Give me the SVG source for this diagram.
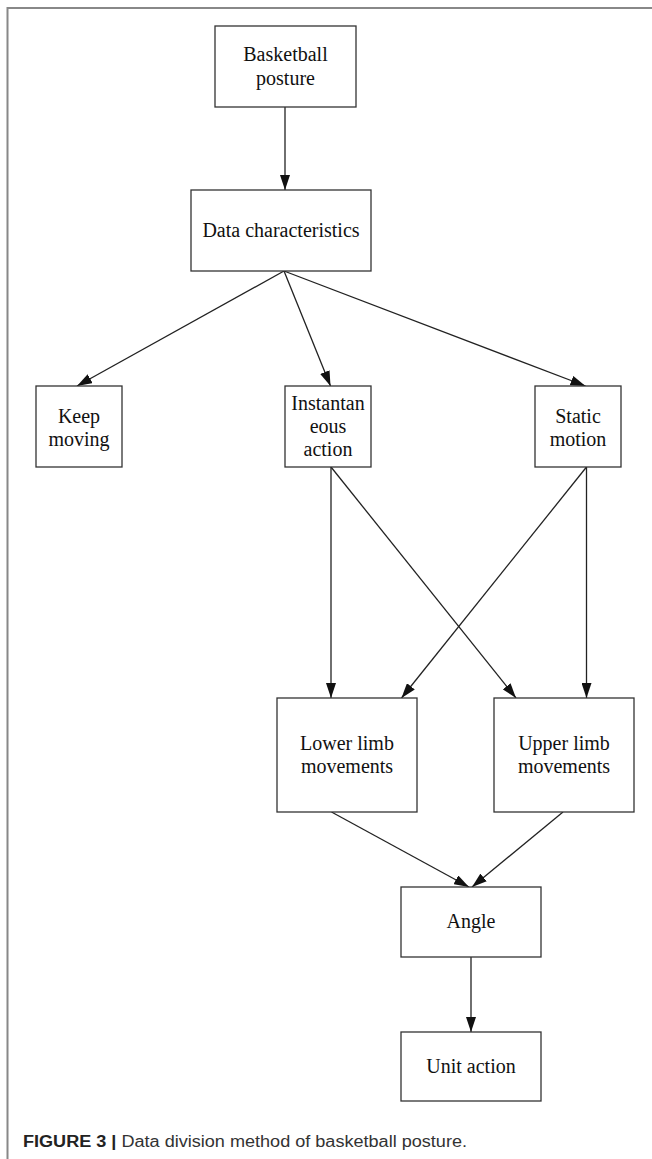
<svg xmlns="http://www.w3.org/2000/svg" width="652" height="1159" viewBox="0 0 652 1159">
<style>
.box{fill:#fff;stroke:#333;stroke-width:1.3}
.lbl{font-family:"Liberation Serif","Times New Roman",serif;font-size:20px;fill:#111;text-anchor:middle}
.edge{stroke:#222;stroke-width:1.3;fill:none;marker-end:url(#ah)}
.frame{stroke:#888;stroke-width:2;fill:none}
.cap{font-family:"Liberation Sans",Arial,sans-serif;font-size:16px;fill:#333}
</style>
<defs>
<marker id="ah" markerUnits="userSpaceOnUse" markerWidth="15" markerHeight="10" refX="15" refY="5" orient="auto">
<path d="M0,0 L15,5 L0,10 z" fill="#111"/>
</marker>
</defs>
<rect width="652" height="1159" fill="#fff"/>
<path class="frame" d="M7.5,1159 V8 H652"/>
<g id="connectors">
<line class="edge" x1="285" y1="107" x2="285" y2="190"/>
<line class="edge" x1="284" y1="271" x2="77" y2="386"/>
<line class="edge" x1="284" y1="271" x2="330.5" y2="386"/>
<line class="edge" x1="284" y1="271" x2="585.5" y2="386"/>
<line class="edge" x1="331" y1="467" x2="331" y2="698"/>
<line class="edge" x1="331" y1="467" x2="516" y2="698"/>
<line class="edge" x1="586.5" y1="467" x2="586.5" y2="698"/>
<line class="edge" x1="586.5" y1="467" x2="401.5" y2="698"/>
<line class="edge" x1="331.5" y1="812" x2="469" y2="887"/>
<line class="edge" x1="563" y1="812" x2="472" y2="887"/>
<line class="edge" x1="471" y1="957" x2="471" y2="1032"/>
</g>
<g id="n-basketball">
<rect class="box" x="215" y="26" width="141" height="81"/>
<text class="lbl" x="285.5" y="61">Basketball</text>
<text class="lbl" x="285.5" y="85">posture</text>
</g>
<g id="n-data">
<rect class="box" x="191" y="190" width="180" height="81"/>
<text class="lbl" x="281" y="237">Data characteristics</text>
</g>
<g id="n-keep">
<rect class="box" x="36" y="386" width="86" height="81"/>
<text class="lbl" x="79" y="423">Keep</text>
<text class="lbl" x="79" y="446">moving</text>
</g>
<g id="n-inst">
<rect class="box" x="285" y="386" width="86" height="81"/>
<text class="lbl" x="328" y="410">Instantan</text>
<text class="lbl" x="328" y="433">eous</text>
<text class="lbl" x="328" y="456">action</text>
</g>
<g id="n-static">
<rect class="box" x="535" y="386" width="86" height="81"/>
<text class="lbl" x="578" y="423">Static</text>
<text class="lbl" x="578" y="446">motion</text>
</g>
<g id="n-lower">
<rect class="box" x="277" y="698" width="140" height="114"/>
<text class="lbl" x="347" y="750">Lower limb</text>
<text class="lbl" x="347" y="773">movements</text>
</g>
<g id="n-upper">
<rect class="box" x="494" y="698" width="140" height="114"/>
<text class="lbl" x="564" y="750">Upper limb</text>
<text class="lbl" x="564" y="773">movements</text>
</g>
<g id="n-angle">
<rect class="box" x="401" y="887" width="140" height="70"/>
<text class="lbl" x="471" y="928">Angle</text>
</g>
<g id="n-unit">
<rect class="box" x="401" y="1032" width="140" height="69"/>
<text class="lbl" x="471" y="1073">Unit action</text>
</g>
<text class="cap" x="23" y="1147" textLength="444" lengthAdjust="spacingAndGlyphs"><tspan font-weight="bold" fill="#222">FIGURE 3 |</tspan> Data division method of basketball posture.</text>
</svg>
